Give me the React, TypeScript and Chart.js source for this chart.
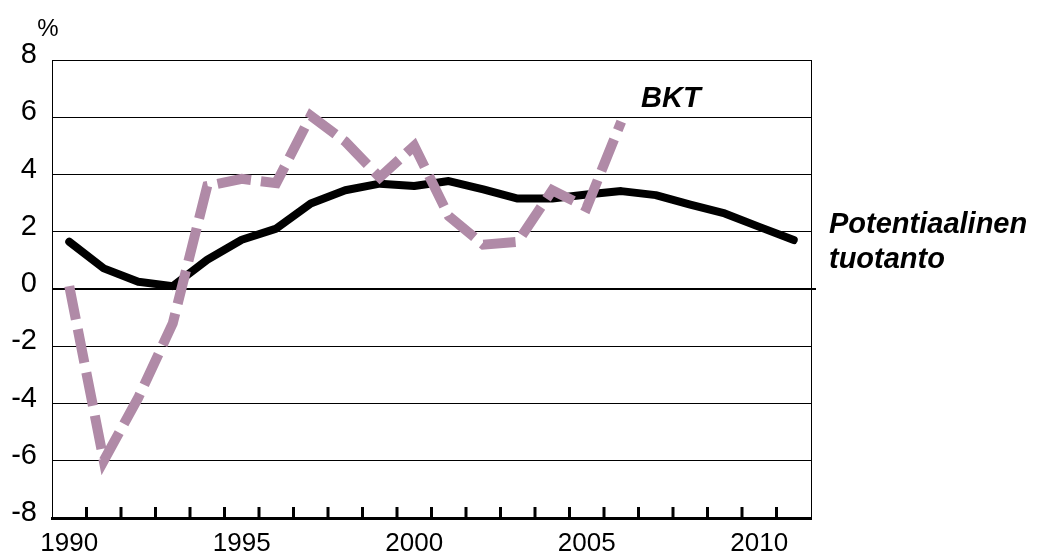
import React, { useEffect, useRef } from 'react';
import { Chart, registerables } from 'chart.js';

Chart.register(...registerables);

const years = ['1990', '1991', '1992', '1993', '1994', '1995', '1996', '1997', '1998', '1999', '2000', '2001', '2002', '2003', '2004', '2005', '2006', '2007', '2008', '2009', '2010', '2011'];
const xTickLabels = ['1990', '1995', '2000', '2005', '2010'];
const potential = [1.65, 0.72, 0.25, 0.1, 1.02, 1.72, 2.11, 2.99, 3.45, 3.68, 3.6, 3.77, 3.48, 3.16, 3.16, 3.3, 3.42, 3.28, 2.95, 2.64, 2.17, 1.71];
const bkt = [0.1, -6.0, -3.8, -1.2, 3.6, 3.85, 3.7, 6.05, 5.15, 3.9, 5.0, 2.55, 1.55, 1.65, 3.45, 2.85, 5.85];
const yMin = -8;
const yMax = 8;
const yStep = 2;
const unitLabel = '%';
const bktLabel = 'BKT';
const potentialLabel = ['Potentiaalinen', 'tuotanto'];

const FONT = '"Liberation Sans", Arial, Helvetica, sans-serif';
const BKT_COLOR = '#b08aa7';

export default function App() {
  const ref = useRef<HTMLCanvasElement>(null);

  useEffect(() => {
    const overlay = {
      id: 'overlay',
      beforeDatasetsDraw(chart: any) {
        const { ctx, chartArea } = chart;
        const y = chart.scales.y.getPixelForValue(0);
        ctx.save();
        ctx.strokeStyle = '#000';
        ctx.lineWidth = 2;
        ctx.beginPath();
        ctx.moveTo(chartArea.left, y);
        ctx.lineTo(chartArea.right + 5, y);
        ctx.stroke();
        ctx.restore();
      },
      afterDraw(chart: any) {
        const { ctx, chartArea } = chart;
        const xs = chart.scales.x;
        ctx.save();
        // right axis
        ctx.strokeStyle = '#000';
        ctx.lineWidth = 1;
        ctx.beginPath();
        ctx.moveTo(chartArea.right + 0.5, chartArea.top);
        ctx.lineTo(chartArea.right + 0.5, chartArea.bottom);
        ctx.stroke();
        // inward tick marks at category boundaries
        ctx.lineWidth = 3;
        for (let i = 1; i < years.length; i++) {
          const x = (xs.getPixelForValue(i - 1) + xs.getPixelForValue(i)) / 2;
          ctx.beginPath();
          ctx.moveTo(x, chartArea.bottom);
          ctx.lineTo(x, chartArea.bottom - 11);
          ctx.stroke();
        }
        // texts
        ctx.fillStyle = '#000';
        ctx.textAlign = 'center';
        ctx.textBaseline = 'alphabetic';
        ctx.font = `24px ${FONT}`;
        ctx.fillText(unitLabel, 48, 36);
        ctx.textAlign = 'left';
        ctx.font = `italic bold 29px ${FONT}`;
        ctx.fillText(bktLabel, 641, 107);
        ctx.fillText(potentialLabel[0], 829, 233);
        ctx.fillText(potentialLabel[1], 829, 268);
        ctx.restore();
      },
    };

    const chart = new Chart(ref.current as HTMLCanvasElement, {
      type: 'line',
      data: {
        labels: years,
        datasets: [
          {
            label: bktLabel,
            data: bkt,
            borderColor: BKT_COLOR,
            borderWidth: 10,
            borderDash: [34, 10],
            borderCapStyle: 'butt',
            borderJoinStyle: 'miter',
            pointRadius: 0,
            tension: 0,
            fill: false,
            order: 0,
          },
          {
            label: potentialLabel.join(' '),
            data: potential,
            borderColor: '#000',
            borderWidth: 8,
            borderCapStyle: 'round',
            borderJoinStyle: 'round',
            pointRadius: 0,
            tension: 0,
            fill: false,
            order: 1,
          },
        ],
      },
      options: {
        responsive: false,
        animation: false,
        events: [],
        layout: { padding: { left: 0, top: 60, right: 227, bottom: 0 } },
        plugins: { legend: { display: false }, tooltip: { enabled: false } },
        scales: {
          x: {
            offset: true,
            grid: { display: false, drawTicks: false },
            border: { display: true, color: '#000', width: 3 },
            ticks: {
              autoSkip: false,
              maxRotation: 0,
              minRotation: 0,
              padding: 10,
              color: '#000',
              font: { family: FONT, size: 26 },
              callback: (_v: any, i: number) => (xTickLabels.includes(years[i]) ? years[i] : ''),
            },
            afterFit: (s: any) => {
              s.height = 39;
            },
          },
          y: {
            min: yMin,
            max: yMax,
            ticks: {
              stepSize: yStep,
              padding: 15,
              labelOffset: -5,
              color: '#000',
              font: { family: FONT, size: 29 },
            },
            grid: {
              color: '#000',
              lineWidth: (c: any) => (c.tick && c.tick.value === 0 ? 0 : 1),
              drawTicks: false,
            },
            border: { display: true, color: '#000', width: 1 },
            afterFit: (s: any) => {
              s.width = 52;
            },
          },
        },
      },
      plugins: [overlay],
    } as any);

    return () => chart.destroy();
  }, []);

  return (
    <div style={{ position: 'fixed', left: 0, top: 0, width: 1038, height: 557, background: '#fff' }}>
      <canvas ref={ref} width={1038} height={557} style={{ display: 'block' }} />
    </div>
  );
}
